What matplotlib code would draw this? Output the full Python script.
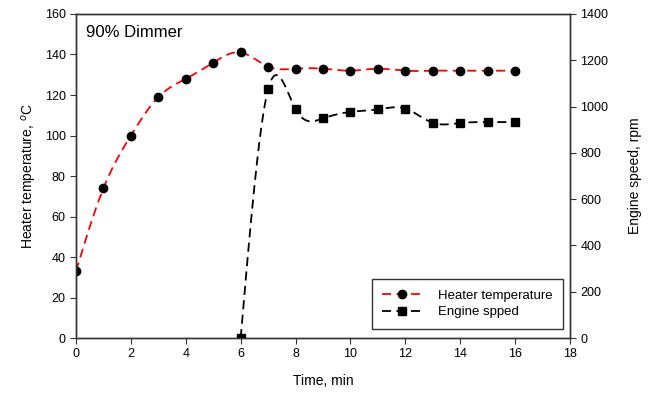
import numpy as np
import matplotlib.pyplot as plt

plt.rcParams['font.family'] = ['Liberation Sans', 'DejaVu Sans']

# data
time_heater = [0, 1, 2, 3, 4, 5, 6, 7, 8, 9, 10, 11, 12, 13, 14, 15, 16]
heater_temp = [33, 74, 100, 119, 128, 136, 141, 134, 133, 133, 132, 133, 132, 132, 132, 132, 132]
time_engine = [6, 7, 8, 9, 10, 11, 12, 13, 14, 15, 16]
engine_speed = [0, 1075, 989, 949, 977, 988, 991, 930, 929, 933, 933]


def natural_spline(x, y, n=400):
    # plain natural cubic spline, like the smooth line in SigmaPlot
    x = np.asarray(x, float)
    y = np.asarray(y, float)
    k = len(x)
    h = np.diff(x)
    A = np.zeros((k, k))
    b = np.zeros(k)
    A[0, 0] = A[-1, -1] = 1
    for i in range(1, k - 1):
        A[i, i - 1] = h[i - 1]
        A[i, i] = 2 * (h[i - 1] + h[i])
        A[i, i + 1] = h[i]
        b[i] = 3 * ((y[i + 1] - y[i]) / h[i] - (y[i] - y[i - 1]) / h[i - 1])
    c = np.linalg.solve(A, b)
    xs = np.linspace(x[0], x[-1], n)
    ys = np.empty_like(xs)
    for j, xv in enumerate(xs):
        i = min(np.searchsorted(x, xv, side='right') - 1, k - 2)
        dx = xv - x[i]
        bi = (y[i + 1] - y[i]) / h[i] - h[i] * (2 * c[i] + c[i + 1]) / 3
        di = (c[i + 1] - c[i]) / (3 * h[i])
        ys[j] = y[i] + bi * dx + c[i] * dx ** 2 + di * dx ** 3
    return xs, ys


fig = plt.figure(figsize=(6.53, 3.94), dpi=100)
ax = fig.add_axes([0.1164, 0.142, 0.7565, 0.8225])
ax2 = ax.twinx()

hx, hy = natural_spline(time_heater, heater_temp)
ax.plot(hx, hy, color='red', linestyle=(0, (5, 3)), linewidth=1.3)
ax.plot(time_heater, heater_temp, 'o', color='black', markersize=6, linestyle='none')

ex, ey = natural_spline(time_engine, engine_speed)
ax2.plot(ex, ey, color='black', linestyle=(0, (5, 3)), linewidth=1.3)
ax2.plot(time_engine, engine_speed, 's', color='black', markersize=6, linestyle='none')

ax.set_xlim(0, 18)
ax.set_ylim(0, 160)
ax2.set_ylim(0, 1400)
ax.set_xticks(range(0, 19, 2))
ax.set_yticks(range(0, 161, 20))
ax2.set_yticks(range(0, 1401, 200))

for a in (ax, ax2):
    a.tick_params(direction='out', labelsize=9, length=4, color='#333333')
    for s in a.spines.values():
        s.set_color('#333333')
        s.set_linewidth(1.0)

ax.set_xlabel('Time, min', fontsize=10, labelpad=10)
ax.set_ylabel('Heater temperature, $^{o}$C', fontsize=10, labelpad=4)
ax2.set_ylabel('Engine speed, rpm', fontsize=10, labelpad=14)

ax.text(0.02, 0.965, '90% Dimmer', transform=ax.transAxes, fontsize=12, va='top', ha='left')

# legend built from the same style
h1, = ax.plot([], [], color='red', linestyle=(0, (5, 3)), marker='o', markerfacecolor='black',
              markeredgecolor='black', markersize=6, linewidth=1.3)
h2, = ax.plot([], [], color='black', linestyle=(0, (5, 3)), marker='s', markersize=6, linewidth=1.3)
leg = ax.legend([h1, h2], ['Heater temperature', 'Engine spped'], loc='lower right',
                bbox_to_anchor=(0.986, 0.028), fontsize=9.5, fancybox=False, framealpha=1,
                edgecolor='#333333', borderaxespad=0, handlelength=3.0, handletextpad=1.2,
                labelspacing=0.35, borderpad=0.8)
leg.get_frame().set_linewidth(1.0)

fig.savefig('out.png', dpi=100)
